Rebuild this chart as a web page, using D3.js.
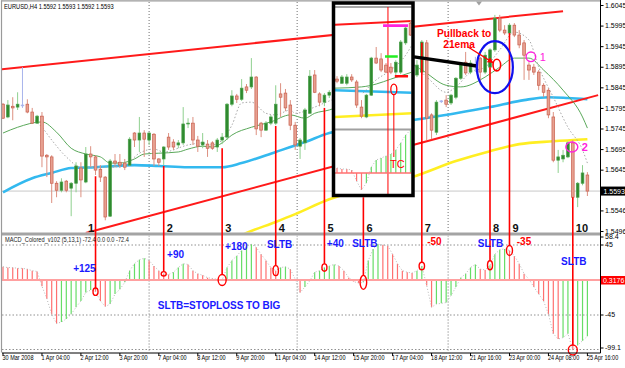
<!DOCTYPE html>
<html>
<head>
<meta charset="utf-8">
<script src="https://cdn.jsdelivr.net/npm/d3@7"></script>
<style>
  html, body { margin: 0; padding: 0; background: #fff; }
  svg { display: block; font-family: "Liberation Sans", Arial, sans-serif; }
</style>
</head>
<body>
<svg id="chart" width="625" height="368"></svg>
<script>
'use strict';

/* ---- data ---- */

// EURUSD H4 bars: [open, high, low, close]
const candles = [
  [1.5804,1.5807,1.5768,1.5770],[1.5773,1.5814,1.5770,1.5802],[1.5799,1.5821,1.5765,1.5795],[1.5797,1.5833,1.5790,1.5804],
  [1.5802,1.5894,1.5795,1.5802],[1.5804,1.5816,1.5782,1.5785],[1.5785,1.5795,1.5756,1.5758],[1.5758,1.5778,1.5756,1.5775],
  [1.5775,1.5785,1.5651,1.5678],[1.5680,1.5683,1.5627,1.5676],[1.5676,1.5680,1.5564,1.5612],[1.5612,1.5617,1.5578,1.5595],
  [1.5595,1.5624,1.5590,1.5615],[1.5617,1.5620,1.5590,1.5595],[1.5600,1.5615,1.5532,1.5612],[1.5612,1.5663,1.5590,1.5654],
  [1.5649,1.5663,1.5578,1.5620],[1.5615,1.5700,1.5612,1.5683],[1.5683,1.5702,1.5651,1.5676],[1.5676,1.5680,1.5632,1.5644],
  [1.5646,1.5656,1.5615,1.5627],[1.5627,1.5629,1.5522,1.5530],[1.5532,1.5671,1.5530,1.5666],[1.5666,1.5683,1.5651,1.5661],
  [1.5663,1.5683,1.5649,1.5656],[1.5661,1.5671,1.5644,1.5651],[1.5656,1.5724,1.5654,1.5719],[1.5734,1.5736,1.5700,1.5717],
  [1.5717,1.5773,1.5688,1.5734],[1.5734,1.5741,1.5676,1.5719],[1.5717,1.5736,1.5705,1.5734],[1.5731,1.5734,1.5654,1.5671],
  [1.5671,1.5673,1.5654,1.5663],[1.5671,1.5702,1.5656,1.5700],[1.5724,1.5734,1.5693,1.5700],[1.5712,1.5719,1.5693,1.5700],
  [1.5705,1.5717,1.5697,1.5710],[1.5710,1.5797,1.5705,1.5756],[1.5756,1.5770,1.5746,1.5758],[1.5758,1.5773,1.5705,1.5717],
  [1.5717,1.5727,1.5688,1.5702],[1.5705,1.5734,1.5697,1.5712],[1.5707,1.5717,1.5676,1.5697],[1.5710,1.5714,1.5693,1.5697],
  [1.5700,1.5722,1.5688,1.5717],[1.5717,1.5734,1.5707,1.5724],[1.5724,1.5807,1.5717,1.5804],[1.5804,1.5838,1.5799,1.5824],
  [1.5824,1.5829,1.5807,1.5816],[1.5816,1.5865,1.5812,1.5843],[1.5846,1.5853,1.5831,1.5838],[1.5846,1.5916,1.5841,1.5870],
  [1.5870,1.5872,1.5729,1.5744],[1.5758,1.5761,1.5724,1.5741],[1.5741,1.5763,1.5739,1.5758],[1.5758,1.5778,1.5753,1.5773],
  [1.5758,1.5850,1.5753,1.5804],[1.5829,1.5855,1.5773,1.5821],[1.5831,1.5841,1.5787,1.5795],[1.5802,1.5814,1.5741,1.5753],
  [1.5753,1.5761,1.5693,1.5705],[1.5702,1.5722,1.5671,1.5717],[1.5710,1.5795,1.5693,1.5790],[1.5782,1.5887,1.5780,1.5872],
  [1.5875,1.5887,1.5831,1.5833],[1.5829,1.5833,1.5799,1.5809],[1.5809,1.5831,1.5799,1.5826],[1.5826,1.5838,1.5819,1.5833],
  [1.5833,1.5848,1.5829,1.5843],[1.5843,1.5848,1.5814,1.5821],[1.5821,1.5826,1.5790,1.5799],[1.5799,1.5809,1.5778,1.5790],
  [1.5790,1.5804,1.5780,1.5795],[1.5795,1.5802,1.5775,1.5785],[1.5785,1.5814,1.5780,1.5807],[1.5807,1.5863,1.5804,1.5855],
  [1.5855,1.5899,1.5850,1.5892],[1.5892,1.5916,1.5882,1.5906],[1.5906,1.5921,1.5875,1.5887],[1.5887,1.5906,1.5867,1.5892],
  [1.5892,1.5902,1.5848,1.5858],[1.5858,1.5887,1.5843,1.5867],[1.5867,1.5882,1.5838,1.5863],[1.5863,1.5880,1.5853,1.5877],
  [1.5877,1.5906,1.5872,1.5882],[1.5875,1.5911,1.5870,1.5899],[1.5882,1.5960,1.5875,1.5955],[1.5953,1.5960,1.5717,1.5770],
  [1.5778,1.5782,1.5719,1.5741],[1.5736,1.5814,1.5729,1.5809],[1.5812,1.5814,1.5807,1.5812],[1.5814,1.5826,1.5797,1.5804],
  [1.5807,1.5829,1.5802,1.5826],[1.5821,1.5870,1.5816,1.5867],[1.5867,1.5906,1.5863,1.5899],[1.5906,1.5931,1.5875,1.5880],
  [1.5882,1.5911,1.5877,1.5904],[1.5899,1.5919,1.5882,1.5899],[1.5916,1.5919,1.5850,1.5882],[1.5882,1.5931,1.5877,1.5923],
  [1.5894,1.5940,1.5831,1.5936],[1.5936,1.6021,1.5931,1.6013],[1.6013,1.6021,1.5979,1.5984],[1.5984,1.5996,1.5972,1.5977],
  [1.5977,1.6001,1.5972,1.5996],[1.5996,1.6001,1.5967,1.5972],[1.5972,1.5984,1.5940,1.5948],[1.5953,1.5960,1.5863,1.5923],
  [1.5899,1.5906,1.5863,1.5887],[1.5894,1.5902,1.5875,1.5882],[1.5882,1.5887,1.5838,1.5850],[1.5850,1.5855,1.5821,1.5833],
  [1.5838,1.5843,1.5770,1.5778],[1.5773,1.5785,1.5663,1.5668],[1.5668,1.5693,1.5637,1.5676],[1.5671,1.5693,1.5663,1.5680],
  [1.5676,1.5714,1.5673,1.5710],[1.5710,1.5717,1.5571,1.5578],[1.5578,1.5615,1.5554,1.5612],[1.5612,1.5656,1.5607,1.5637],
  [1.5632,1.5639,1.5581,1.5593]
];

// moving averages: [bar, price]
const ema21 = [[0,1.5734],[3,1.5748],[8,1.5761],[11,1.5736],[14,1.5697],[17,1.5683],[20,1.5676],[22,1.5661],[24,1.5661],
  [27,1.5671],[29,1.5683],[32,1.5685],[36,1.5688],[38,1.5695],[41,1.5702],[43,1.5700],[45,1.5710],[47,1.5729],[51,1.5748],
  [55,1.5761],[59,1.5778],[62,1.5770],[64,1.5782],[67,1.5790],[72,1.5814],[78,1.5850],[84,1.5899],[86,1.5887],[91,1.5850],
  [94,1.5846],[99,1.5870],[102,1.5894],[105,1.5916],[108,1.5916],[111,1.5887],[115,1.5838],[119,1.5773],[120,1.5746]];
const fastMa = [[6,1.5770],[8,1.5748],[10,1.5717],[13,1.5676],[16,1.5651],[19,1.5651],[22,1.5651],[25,1.5656],[28,1.5685],
  [31,1.5695],[33,1.5688],[38,1.5705],[41,1.5710],[43,1.5705],[45,1.5717],[47,1.5753],[49,1.5807],[51,1.5809],[54,1.5782],
  [56,1.5778],[59,1.5790],[60,1.5782],[64,1.5797],[66,1.5807],[75,1.5850],[84,1.5897],[87,1.5870],[91,1.5833],[93,1.5846],
  [96,1.5882],[99,1.5894],[102,1.5936],[105,1.5979],[108,1.5960],[110,1.5894],[113,1.5821],[116,1.5748],[119,1.5693],[120,1.5661]];
const ema100 = [[0,1.5590],[6,1.5624],[10,1.5637],[14,1.5649],[19,1.5651],[27,1.5656],[32,1.5654],[38,1.5651],[45,1.5651],
  [49,1.5661],[56,1.5688],[62,1.5712],[67,1.5734],[75,1.5748],[84,1.5765],[93,1.5782],[100,1.5797],[107,1.5814],
  [112,1.5821],[116,1.5819],[120,1.5816]];
const sma200 = [[47,1.5474],[50,1.5491],[56,1.5518],[60,1.5537],[67,1.5573],[74,1.5598],[84,1.5627],[93,1.5666],
  [100,1.5690],[106,1.5707],[113,1.5714],[120,1.5719]];

// channel trend lines: [bar, price] end points
const upperTrend = [[-0.3,1.5889],[115,1.6030]];
const lowerTrend = [[17,1.5491],[122.2,1.5826]];

// MACD_Colored (5,13,1) histogram
const macd = [17,16,16,15,15,14,12,11,-8,-24,-44,-56,-54,-50,-44,-35,-27,-16,-13,-15,
  -27,-34,-31,-18,-12,-3,12,21,26,28,25,18,12,8,7,10,16,21,20,12,
  8,6,3,2,1,0,16,25,31,38,43,46,42,33,25,16,12,16,17,14,
  1,-16,-9,-1,10,12,16,18,20,18,12,3,-2,-4,-3,25,40,46,45,44,
  33,21,12,10,9,12,18,-7,-35,-31,-30,-29,-20,-9,3,8,16,20,14,13,
  19,33,39,40,38,31,21,8,1,-9,-18,-27,-44,-69,-76,-74,-69,-90,-84,-78,-72.4];

// axes
const priceTicks = [1.6045,1.5995,1.5945,1.5895,1.5845,1.5795,1.5745,1.5695,1.5645,1.5546,1.5496];
const lastPrice = 1.5593;
const dateTickBars = [0,8,16,24,32,40,48,56,64,72,80,88,96,104,112,120];
const dateLabels = ['30 Mar 2008','1 Apr 04:00','2 Apr 12:00','3 Apr 20:00','7 Apr 04:00','8 Apr 12:00','9 Apr 20:00',
  '11 Apr 04:00','14 Apr 12:00','15 Apr 20:00','17 Apr 04:00','18 Apr 12:00','21 Apr 16:00','23 Apr 00:00',
  '24 Apr 08:00','25 Apr 16:00'];
const macdAxisLabels = [58.4, 45, -45, -99.1];
const gridBars = [30, 60.4, 91.4];

// trades marked on the chart
const tradeLabels = ['1','2','3','4','5','6','7','8','9','10'];
const tradeBars = [19,33,45,56,66,74,86,100,104,117];
const tradePrice = [1.5629,1.5654,1.5697,1.5751,1.5795,1.5578,1.5953,1.5894,1.5977,1.5578];

// text notes in the MACD window: text, bar, macd value at baseline
const noteText = ['+125','+90','+180','SLTB','+40','SLTB','-50','SLTB','-35','SLTB','SLTB=STOPLOSS TO BIG'];
const noteBar = [14.4,33.7,45.6,54.2,66.5,71.7,87.1,97.5,105.5,114.6,31.8];
const noteValue = [10.3,28.3,38.6,41.1,42.4,42.4,45,42.4,45,19.3,-37.3];
const noteKind = ['win','win','win','sl','win','sl','loss','sl','loss','sl','sl'];

// inset picture (pasted zoom of trade 6)
const insetCandles = [
  [1.5865,1.5872,1.5855,1.5860],[1.5855,1.5875,1.5853,1.5870],[1.5855,1.5877,1.5850,1.5870],[1.5870,1.5877,1.5858,1.5863],
  [1.5858,1.5863,1.5795,1.5802],[1.5797,1.5814,1.5770,1.5775],[1.5773,1.5829,1.5770,1.5826],[1.5826,1.5919,1.5824,1.5916],
  [1.5916,1.5943,1.5902,1.5904],[1.5914,1.5928,1.5882,1.5887],[1.5899,1.5904,1.5880,1.5882],[1.5894,1.5904,1.5877,1.5882],
  [1.5882,1.5911,1.5875,1.5906],[1.5882,1.5960,1.5877,1.5955],[1.5953,1.5996,1.5948,1.5989],[1.6001,1.6008,1.5970,1.5972]
];
const insetEma = [[-0.5,1.5843],[5,1.5846],[8,1.5853],[11,1.5865],[15.3,1.5882]];
const insetFast = [[5.3,1.5831],[8,1.5863],[11,1.5887],[14,1.5923],[15.3,1.5948]];
const insetEma100 = [[-0.5,1.5838],[15.3,1.5832]];
const insetSma200 = [[-0.5,1.5773],[15.3,1.5782]];
const insetTrend = [[-0.5,1.5997],[15.3,1.6006]];
const insetMacd = [10,8,8,6,-16,-34,-20,12,26,30,34,38,46,60,76,86];
const insetLevels = [  // [fromBar, toBar, price, kind]
  [9.4,14.5,1.5995,'target'],[9.8,12.4,1.5920,'entry'],[11.8,14.5,1.5872,'stop']];

/* ---- layout ---- */
const W = 625, H = 368;
const L = 2, R = 600, T = 2, MAIN_B = 232.5, MACD_T = 235.5, B = 352.5;
const svg = d3.select('#chart');

const x = d3.scaleLinear().domain([0, 120]).range([3, 587.4]);
const y = d3.scaleLinear().domain([1.5496, 1.6045]).range([231, 5]);
const ym = d3.scaleLinear().domain([-45, 45]).range([315, 245]);

const BULL = '#2f8a2f', BULL_EDGE = '#4aa04a', BULL_WICK = '#8fd08f';
const BEAR = '#e7a090', BEAR_EDGE = '#c8604f', BEAR_WICK = '#dd9080';
const DOJI = '#a8b4ec';
const HIST_UP = '#66dd66', HIST_DN = '#ff7070';
const BLUE = '#1a1aff', RED = '#ff0000';

svg.append('rect').attr('width', W).attr('height', H).attr('fill', '#fff');

const defs = svg.append('defs');
defs.append('clipPath').attr('id', 'clipMain')
  .append('rect').attr('x', L).attr('y', T).attr('width', R - L).attr('height', MAIN_B - T);
defs.append('clipPath').attr('id', 'clipMacd')
  .append('rect').attr('x', L).attr('y', MACD_T).attr('width', R - L).attr('height', B - MACD_T);
defs.append('clipPath').attr('id', 'clipInset')
  .append('rect').attr('x', 335).attr('y', 5).attr('width', 76.5).attr('height', 189);
defs.append('marker').attr('id', 'arrowRed').attr('viewBox', '0 0 10 10')
  .attr('refX', 9).attr('refY', 5).attr('markerWidth', 5).attr('markerHeight', 5).attr('orient', 'auto')
  .append('path').attr('d', 'M0,0 L10,5 L0,10 z').attr('fill', RED);

const priceLine = d3.line().x(d => x(d[0])).y(d => y(d[1])).curve(d3.curveMonotoneX);

/* ---- main window ---- */
const main = svg.append('g').attr('clip-path', 'url(#clipMain)');

main.selectAll('line.grid').data(gridBars).join('line')
  .attr('x1', d => x(d)).attr('x2', d => x(d)).attr('y1', T).attr('y2', MAIN_B)
  .attr('stroke', '#707070').attr('stroke-dasharray', '1,2');

main.append('line').attr('x1', L).attr('x2', R).attr('y1', y(lastPrice)).attr('y2', y(lastPrice))
  .attr('stroke', '#c8c8c8');

main.append('path').datum(sma200).attr('d', priceLine).attr('fill', 'none')
  .attr('stroke', '#ffee22').attr('stroke-width', 2.6);
main.append('path').datum(ema100).attr('d', priceLine).attr('fill', 'none')
  .attr('stroke', '#33b9ef').attr('stroke-width', 2.6);
[upperTrend, lowerTrend].forEach(t => {
  main.append('line').attr('x1', x(t[0][0])).attr('y1', y(t[0][1]))
    .attr('x2', x(t[1][0])).attr('y2', y(t[1][1]))
    .attr('stroke', '#ff1a1a').attr('stroke-width', 2);
});
main.append('path').datum(ema21).attr('d', priceLine).attr('fill', 'none')
  .attr('stroke', '#5aa85a').attr('stroke-width', 1);
main.append('path').datum(fastMa).attr('d', priceLine).attr('fill', 'none')
  .attr('stroke', '#a8a8a8').attr('stroke-width', 1).attr('stroke-dasharray', '1.5,2');

function drawCandles(g, data, xs, bodyW) {
  const c = g.selectAll('g.candle').data(data).join('g').attr('class', 'candle');
  const kind = d => d[3] > d[0] ? 'up' : (d[3] < d[0] ? 'dn' : 'doji');
  c.append('line')
    .attr('x1', (d, i) => xs(i)).attr('x2', (d, i) => xs(i))
    .attr('y1', d => y(d[1])).attr('y2', d => y(d[2]))
    .attr('stroke', d => ({ up: BULL_WICK, dn: BEAR_WICK, doji: DOJI })[kind(d)]).attr('stroke-width', 1);
  c.append('rect')
    .attr('x', (d, i) => xs(i) - bodyW / 2).attr('width', bodyW)
    .attr('y', d => y(Math.max(d[0], d[3])))
    .attr('height', d => Math.max(0.8, Math.abs(y(d[0]) - y(d[3]))))
    .attr('fill', d => ({ up: BULL, dn: BEAR, doji: DOJI })[kind(d)])
    .attr('stroke', d => ({ up: BULL_EDGE, dn: BEAR_EDGE, doji: DOJI })[kind(d)])
    .attr('stroke-width', 0.7);
}
drawCandles(main, candles, x, 2.7);

/* ---- MACD window ---- */
const sub = svg.append('g').attr('clip-path', 'url(#clipMacd)');
sub.selectAll('line.grid').data(gridBars).join('line')
  .attr('x1', d => x(d)).attr('x2', d => x(d)).attr('y1', MACD_T).attr('y2', B)
  .attr('stroke', '#707070').attr('stroke-dasharray', '1,2');
sub.selectAll('line.level').data([45, -45]).join('line')
  .attr('x1', L).attr('x2', R).attr('y1', d => ym(d)).attr('y2', d => ym(d))
  .attr('stroke', '#909090').attr('stroke-dasharray', '1.5,2');
sub.append('line').attr('x1', L).attr('x2', R).attr('y1', 349.5).attr('y2', 349.5)
  .attr('stroke', '#909090').attr('stroke-dasharray', '1.5,2');

sub.selectAll('line.hist').data(macd).join('line')
  .attr('x1', (d, i) => x(i)).attr('x2', (d, i) => x(i))
  .attr('y1', ym(0)).attr('y2', d => ym(d))
  .attr('stroke', (d, i) => (i > 0 && d > macd[i - 1]) ? HIST_UP : HIST_DN)
  .attr('stroke-width', 1.2);
sub.append('path').datum(macd)
  .attr('d', d3.line().x((d, i) => x(i)).y(d => ym(d)))
  .attr('fill', 'none').attr('stroke', '#b8b8b8').attr('stroke-dasharray', '1,2');
sub.append('line').attr('x1', L).attr('x2', R).attr('y1', ym(0)).attr('y2', ym(0))
  .attr('stroke', '#ffa0a0').attr('stroke-width', 2);

/* ---- frame and separator ---- */
svg.append('rect').attr('x', L).attr('y', MAIN_B).attr('width', R - L).attr('height', MACD_T - MAIN_B)
  .attr('fill', '#a4a4a4');
svg.append('line').attr('x1', 1.5).attr('x2', 1.5).attr('y1', 0.5).attr('y2', B)
  .attr('stroke', '#9a9a9a').attr('stroke-width', 1.2);
svg.append('line').attr('x1', 1).attr('x2', R).attr('y1', 0.8).attr('y2', 0.8)
  .attr('stroke', '#9a9a9a').attr('stroke-width', 1.2);
svg.append('path').attr('d', 'M476,1.5 L482,1.5 L479,5.5 Z').attr('fill', '#a0a0a0');

/* ---- trade markers ---- */
const circleSize = [[2.5,3.7],[2.5,2.2],[4,5.5],[2.7,5],[2.5,3.7],[3.3,7],[2.7,3.8],[2.5,4.5],[3,5],[4.5,5]];
const trades = svg.append('g');
tradeBars.forEach((b, i) => {
  const cx = x(b), cy = ym(macd[b]);
  trades.append('line').attr('x1', cx).attr('x2', cx)
    .attr('y1', y(tradePrice[i])).attr('y2', cy - circleSize[i][1])
    .attr('stroke', RED).attr('stroke-width', 1.6);
  trades.append('ellipse').attr('cx', cx).attr('cy', cy)
    .attr('rx', circleSize[i][0]).attr('ry', circleSize[i][1])
    .attr('fill', 'none').attr('stroke', RED).attr('stroke-width', 1.4);
  trades.append('text').attr('x', i === 0 ? cx - 1.5 : cx + 3).attr('y', 232)
    .attr('text-anchor', i === 0 ? 'end' : 'start')
    .attr('font-size', 11).attr('font-weight', 'bold').attr('fill', '#111')
    .text(tradeLabels[i]);
});

/* ---- inset ---- */
const insetX = d3.scaleLinear().domain([0, 15]).range([337, 410.5]);
const insetLine = d3.line().x(d => insetX(d[0])).y(d => y(d[1]));
const inset = svg.append('g');
inset.append('rect').attr('x', 333.5).attr('y', 3).attr('width', 79.5).attr('height', 192.5)
  .attr('fill', '#fff');
const ins = inset.append('g').attr('clip-path', 'url(#clipInset)');
ins.append('line').attr('x1', 335).attr('x2', 412).attr('y1', 7).attr('y2', 7)
  .attr('stroke', '#a8a8a8').attr('stroke-width', 2);
ins.append('line').attr('x1', 335).attr('x2', 412).attr('y1', 129.5).attr('y2', 129.5)
  .attr('stroke', '#a0a0a0').attr('stroke-width', 2);
ins.append('path').datum(insetSma200).attr('d', insetLine).attr('fill', 'none')
  .attr('stroke', '#ffee22').attr('stroke-width', 2.6);
ins.append('path').datum(insetEma100).attr('d', insetLine).attr('fill', 'none')
  .attr('stroke', '#33b9ef').attr('stroke-width', 2.6);
ins.append('path').datum(insetTrend).attr('d', insetLine).attr('fill', 'none')
  .attr('stroke', '#ff1a1a').attr('stroke-width', 2);
ins.append('path').datum(insetEma).attr('d', insetLine.curve(d3.curveMonotoneX)).attr('fill', 'none')
  .attr('stroke', '#5aa85a').attr('stroke-width', 1);
ins.append('path').datum(insetFast).attr('d', insetLine).attr('fill', 'none')
  .attr('stroke', '#a8a8a8').attr('stroke-dasharray', '1.5,2');
ins.append('line').attr('x1', insetX(10.4)).attr('x2', insetX(10.4)).attr('y1', 7).attr('y2', 195)
  .attr('stroke', RED).attr('stroke-width', 1);
drawCandles(ins, insetCandles, insetX, 2.7);
const levelColor = { target: '#ff22dd', entry: '#22ee22', stop: '#ff1010' };
ins.selectAll('line.lvl').data(insetLevels).join('line')
  .attr('x1', d => insetX(d[0])).attr('x2', d => insetX(d[1]))
  .attr('y1', d => y(d[2])).attr('y2', d => y(d[2]))
  .attr('stroke', d => levelColor[d[3]]).attr('stroke-width', 2.6);
ins.append('ellipse').attr('cx', insetX(11.6)).attr('cy', y(1.5840)).attr('rx', 3).attr('ry', 5.3)
  .attr('fill', 'none').attr('stroke', RED).attr('stroke-width', 1.3);
ins.append('line').attr('x1', insetX(11.6)).attr('x2', insetX(11.6))
  .attr('y1', y(1.5840) + 5.3).attr('y2', 157).attr('stroke', RED).attr('stroke-width', 1);
const yi = d3.scaleLinear().domain([0, 100]).range([173, 123]);
ins.selectAll('line.ih').data(insetMacd).join('line')
  .attr('x1', (d, i) => insetX(i)).attr('x2', (d, i) => insetX(i))
  .attr('y1', yi(0)).attr('y2', d => yi(d))
  .attr('stroke', (d, i) => (i > 0 && d > insetMacd[i - 1]) ? HIST_UP : HIST_DN).attr('stroke-width', 1.2);
ins.append('path').datum(insetMacd)
  .attr('d', d3.line().x((d, i) => insetX(i)).y(d => yi(d)))
  .attr('fill', 'none').attr('stroke', '#b8b8b8').attr('stroke-dasharray', '1,2');
ins.append('line').attr('x1', 335).attr('x2', 412).attr('y1', yi(0)).attr('y2', yi(0))
  .attr('stroke', '#ff7070').attr('stroke-width', 1.5);
ins.append('text').attr('x', 390).attr('y', 168).attr('font-size', 11).attr('fill', RED).text('TC');
inset.append('rect').attr('x', 333.5).attr('y', 3).attr('width', 79.5).attr('height', 192.5)
  .attr('fill', 'none').attr('stroke', '#000').attr('stroke-width', 3.5);

/* ---- drawn annotations ---- */
const notes = svg.append('g');
notes.append('line')
  .attr('x1', x(84.4)).attr('y1', y(1.5919)).attr('x2', x(97.3)).attr('y2', y(1.5897))
  .attr('stroke', '#000').attr('stroke-width', 3.5);
notes.append('ellipse').attr('cx', x(101)).attr('cy', y(1.5894)).attr('rx', 18).attr('ry', 26)
  .attr('fill', 'none').attr('stroke', '#1010ee').attr('stroke-width', 2.2);
notes.append('ellipse').attr('cx', x(101.4)).attr('cy', y(1.5899)).attr('rx', 3.8).attr('ry', 5.8)
  .attr('fill', 'none').attr('stroke', RED).attr('stroke-width', 1.6);
notes.append('line')
  .attr('x1', x(95.5)).attr('y1', y(1.5943)).attr('x2', x(100.6)).attr('y2', y(1.5905))
  .attr('stroke', RED).attr('stroke-width', 1.2).attr('marker-end', 'url(#arrowRed)');
notes.append('text').attr('x', x(89.1)).attr('y', y(1.5967)).attr('font-size', 10.2)
  .attr('font-weight', 'bold').attr('fill', RED).text('Pullback to');
notes.append('text').attr('x', x(90.4)).attr('y', y(1.5941)).attr('font-size', 10.2)
  .attr('font-weight', 'bold').attr('fill', RED).text('21ema');
[[108.4, 1.5919, '1', 4.8, 4.8], [116.8, 1.5700, '2', 6, 5]].forEach(m => {
  notes.append('ellipse').attr('cx', x(m[0])).attr('cy', y(m[1])).attr('rx', m[3]).attr('ry', m[4])
    .attr('fill', 'none').attr('stroke', '#ff22dd').attr('stroke-width', 1.4);
  notes.append('text').attr('x', x(m[0]) + m[3] + 4).attr('y', y(m[1]) + 4)
    .attr('font-size', 11).attr('font-weight', m[2] === '2' ? 'bold' : 'normal')
    .attr('fill', '#ff22dd').text(m[2]);
});

const noteColor = { win: BLUE, sl: BLUE, loss: RED };
notes.selectAll('text.note').data(noteText).join('text')
  .attr('x', (d, i) => x(noteBar[i])).attr('y', (d, i) => ym(noteValue[i]))
  .attr('font-size', 10).attr('font-weight', 'bold')
  .attr('fill', (d, i) => noteColor[noteKind[i]])
  .text(d => d);

/* ---- headers ---- */
function smallText(g, tx, ty, str, sx, anchor) {
  return g.append('text').attr('transform', `translate(${tx},${ty}) scale(${sx},1)`)
    .attr('font-size', 7).attr('text-anchor', anchor || 'start').attr('fill', '#000').text(str);
}
smallText(svg, 4, 8.8, 'EURUSD,H4  1.5592 1.5593 1.5592 1.5593', 0.82);
smallText(svg, 5, 242.3, 'MACD_Colored_v102 (5,13,1) -72.4 0.0 0.0 -72.4', 0.81).attr('fill', '#222');

/* ---- axes ---- */
const axisG = svg.append('g');
axisG.append('line').attr('x1', R + 0.5).attr('x2', R + 0.5).attr('y1', 0).attr('y2', B + 0.5)
  .attr('stroke', '#000');
axisG.append('line').attr('x1', L).attr('x2', R + 0.5).attr('y1', B + 0.5).attr('y2', B + 0.5)
  .attr('stroke', '#000');

const yAxis = d3.axisRight(y).tickValues(priceTicks).tickFormat(d3.format('.4f')).tickSize(3).tickPadding(1.5);
const ya = svg.append('g').attr('transform', `translate(${R + 0.5},0)`).call(yAxis);
ya.select('.domain').remove();
ya.selectAll('text').attr('font-size', 7).attr('font-family', '"Liberation Sans", Arial, sans-serif')
  .attr('fill', '#000');

svg.append('rect').attr('x', R + 1).attr('y', y(lastPrice) - 4.5).attr('width', 24).attr('height', 9)
  .attr('fill', '#000');
svg.append('text').attr('x', R + 3.5).attr('y', y(lastPrice) + 2.5).attr('font-size', 7)
  .attr('fill', '#fff').text(lastPrice.toFixed(4));

const macdAxis = svg.append('g');
macdAxisLabels.forEach(v => {
  const ty = Math.max(MACD_T + 1.5, Math.min(B - 4.5, ym(v)));
  macdAxis.append('line').attr('x1', R + 0.5).attr('x2', R + 3.5).attr('y1', ty).attr('y2', ty).attr('stroke', '#000');
  macdAxis.append('text').attr('x', R + 5).attr('y', ty + 2.4).attr('font-size', 7).attr('fill', '#000')
    .text(Math.abs(v) === 45 ? String(v) : v.toFixed(1));
});
svg.append('rect').attr('x', R + 1).attr('y', ym(0) - 4).attr('width', 24).attr('height', 8.5)
  .attr('fill', '#ff0000');
svg.append('text').attr('x', R + 3).attr('y', ym(0) + 2.6).attr('font-size', 7)
  .attr('fill', '#fff').text('0.3176');

const xa = svg.append('g');
dateTickBars.forEach((b, i) => {
  xa.append('line').attr('x1', x(b)).attr('x2', x(b)).attr('y1', B + 0.5).attr('y2', B + 3.5).attr('stroke', '#000');
  smallText(xa, x(b) - 0.5, 359.5, dateLabels[i], 0.79);
});
</script>
</body>
</html>
